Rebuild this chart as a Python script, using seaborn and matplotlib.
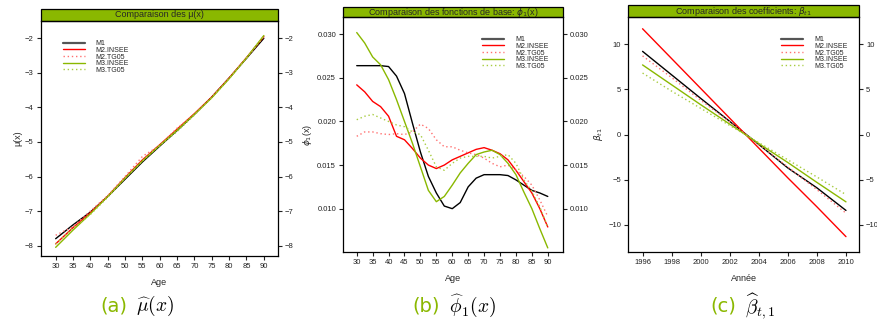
import numpy as np
import pandas as pd
import matplotlib
matplotlib.use("Agg")
import matplotlib.pyplot as plt
from matplotlib.patches import Rectangle
import seaborn as sns

# =========================
# DONNÉES
# =========================

series = ["M1", "M2.INSEE", "M2.TG05", "M3.INSEE", "M3.TG05"]

# (a) mu(x)
age_a = [30, 35, 40, 45, 50, 55, 60, 65, 70, 75, 80, 85, 90]
mu_m1 = [-7.80, -7.40, -7.03, -6.58, -6.08, -5.58, -5.12, -4.67, -4.20, -3.70, -3.15, -2.58, -2.00]
mu_m2_insee = [-7.95, -7.48, -7.05, -6.57, -6.03, -5.52, -5.08, -4.63, -4.18, -3.70, -3.15, -2.56, -1.95]
mu_m2_tg05 = [-7.70, -7.45, -7.00, -6.55, -6.00, -5.42, -5.10, -4.60, -4.20, -3.70, -3.15, -2.57, -1.95]
mu_m3_insee = [-8.05, -7.55, -7.08, -6.58, -6.05, -5.55, -5.10, -4.66, -4.20, -3.72, -3.17, -2.57, -1.92]
mu_m3_tg05 = [-7.95, -7.50, -7.10, -6.60, -6.05, -5.55, -5.10, -4.70, -4.22, -3.72, -3.17, -2.57, -1.93]

# (b) phi_1(x)
age_b = [30, 32.5, 35, 37.5, 40, 42.5, 45, 47.5, 50, 52.5, 55, 57.5, 60, 62.5, 65,
         67.5, 70, 72.5, 75, 77.5, 80, 82.5, 85, 87.5, 90]
phi_m1 = [0.0264, 0.0264, 0.0264, 0.0264, 0.0263, 0.0252, 0.0232, 0.0198, 0.0165, 0.0137,
          0.0118, 0.0103, 0.0100, 0.0107, 0.0125, 0.0135, 0.0139, 0.0139, 0.0139, 0.0138,
          0.0133, 0.0127, 0.0121, 0.0118, 0.0114]
phi_m2_insee = [0.0242, 0.0234, 0.0223, 0.0217, 0.0206, 0.0183, 0.0179, 0.0169, 0.0158, 0.0150,
                0.0146, 0.0150, 0.0156, 0.0160, 0.0164, 0.0168, 0.0170, 0.0167, 0.0163, 0.0156,
                0.0144, 0.0131, 0.0118, 0.0100, 0.0079]
phi_m2_tg05 = [0.0183, 0.0188, 0.0188, 0.0186, 0.0185, 0.0186, 0.0185, 0.0188, 0.0197, 0.0192,
               0.0179, 0.0171, 0.0171, 0.0167, 0.0164, 0.0162, 0.0158, 0.0152, 0.0148, 0.0150,
               0.0144, 0.0137, 0.0127, 0.0110, 0.0091]
phi_m3_insee = [0.0302, 0.0290, 0.0274, 0.0265, 0.0248, 0.0225, 0.0200, 0.0175, 0.0148, 0.0121,
                0.0108, 0.0114, 0.0127, 0.0141, 0.0152, 0.0162, 0.0165, 0.0167, 0.0162, 0.0152,
                0.0139, 0.0119, 0.0100, 0.0077, 0.0055]
phi_m3_tg05 = [0.0202, 0.0206, 0.0208, 0.0204, 0.0200, 0.0196, 0.0194, 0.0188, 0.0185, 0.0167,
               0.0148, 0.0144, 0.0152, 0.0158, 0.0160, 0.0160, 0.0160, 0.0158, 0.0160, 0.0162,
               0.0152, 0.0133, 0.0120, 0.0102, 0.0079]

# (c) beta_t1
annee = [1996, 1998, 2000, 2002, 2004, 2006, 2008, 2010]
beta_m1 = [9.2, 6.6, 4.0, 1.45, -1.1, -3.7, -5.9, -8.4]
beta_m2_insee = [11.7, 8.4, 5.1, 1.8, -1.5, -4.8, -8.0, -11.3]
beta_m2_tg05 = [8.7, 6.3, 3.8, 1.4, -1.1, -3.6, -6.1, -8.7]
beta_m3_insee = [7.7, 5.5, 3.3, 1.15, -1.0, -3.1, -5.3, -7.45]
beta_m3_tg05 = [6.8, 4.8, 2.9, 1.0, -0.9, -2.8, -4.7, -6.65]

# =========================
# STYLE
# =========================

sns.set_style("ticks")
plt.rcParams["font.family"] = ["Liberation Sans", "DejaVu Sans"]
plt.rcParams["mathtext.fontset"] = "dejavusans"

VERT = "#8ab800"
ROUGE = "#ff0000"
styles = {
    "M1": dict(color="black", linestyle="-", lw=1.0),
    "M2.INSEE": dict(color=ROUGE, linestyle="-", lw=1.0),
    "M2.TG05": dict(color="#ff7070", linestyle=(0, (1, 2)), lw=1.0),
    "M3.INSEE": dict(color=VERT, linestyle="-", lw=1.0),
    "M3.TG05": dict(color="#a8cc40", linestyle=(0, (1, 2)), lw=1.0),
}

fig = plt.figure(figsize=(8.78, 3.24), dpi=100)


def panel(rect, x, ys, titre, xlabel, ylabel, xlim, ylim, xticks, yticks,
          leg_anchor, strip_px, fmt):
    ax = fig.add_axes(rect)
    for nom, y in zip(series, ys):
        st = styles[nom]
        sns.lineplot(x=x, y=y, ax=ax, color=st["color"], linestyle=st["linestyle"],
                     lw=st["lw"], label=nom)
    ax.set_xlim(*xlim)
    ax.set_ylim(*ylim)
    ax.set_xticks(xticks)
    ax.set_yticks(yticks)
    ax.set_yticklabels([fmt(v) for v in yticks])
    ax.tick_params(axis="both", labelsize=5.5, length=3, width=0.8, pad=2, colors="#222222")
    ax.tick_params(axis="y", right=True, labelright=True)
    for s in ax.spines.values():
        s.set_linewidth(0.9)
        s.set_color("black")
    ax.set_xlabel(xlabel, fontsize=6.5, labelpad=6)
    ax.set_ylabel(ylabel, fontsize=6.5, labelpad=2)
    leg = ax.legend(loc="upper left", bbox_to_anchor=leg_anchor, frameon=False,
                    fontsize=5, handlelength=3.2, handletextpad=1.6,
                    labelspacing=-0.05, borderaxespad=0)
    leg.get_lines()[0].set_color("#555555")
    leg.get_lines()[0].set_linewidth(1.6)
    # bandeau du titre
    h = strip_px / (rect[3] * 324)
    ax.add_patch(Rectangle((0, 1), 1, h, transform=ax.transAxes, clip_on=False,
                           facecolor=VERT, edgecolor="black", lw=0.9))
    ax.text(0.5, 1 + h / 2, titre, transform=ax.transAxes, ha="center", va="center",
            fontsize=6.5)
    return ax


panel([0.0464, 0.2099, 0.2703, 0.7253], age_a,
      [mu_m1, mu_m2_insee, mu_m2_tg05, mu_m3_insee, mu_m3_tg05],
      "Comparaison des μ(x)", "Age", "μ(x)",
      (25.7, 94.1), (-8.3, -1.5), list(range(30, 91, 5)), list(range(-8, -1)),
      (0.08, 0.93), 12, lambda v: f"{v:d}".replace("-", "\u2212"))

panel([0.3907, 0.2222, 0.2506, 0.7253], age_b,
      [phi_m1, phi_m2_insee, phi_m2_tg05, phi_m3_insee, phi_m3_tg05],
      "Comparaison des fonctions de base: $\\phi_1$(x)", "Age", "$\\phi_1$(x)",
      (25.7, 94.8), (0.00503, 0.03198), list(range(30, 91, 5)),
      [0.010, 0.015, 0.020, 0.025, 0.030], (0.62, 0.93), 10, lambda v: f"{v:.3f}")

panel([0.7153, 0.2222, 0.2631, 0.7253], annee,
      [beta_m1, beta_m2_insee, beta_m2_tg05, beta_m3_insee, beta_m3_tg05],
      "Comparaison des coefficients: $\\beta_{t1}$", "Année", "$\\beta_{t1}$",
      (1995.0, 2010.9), (-13, 13), list(range(1996, 2011, 2)),
      [-10, -5, 0, 5, 10], (0.65, 0.93), 12, lambda v: f"{v:d}".replace("-", "\u2212"))

# =========================
# LÉGENDES DES SOUS-FIGURES
# =========================

captions = [(0.150, "(a)", r"$\widehat{\mu}(x)$"),
            (0.506, "(b)", r"$\widehat{\phi}_1(x)$"),
            (0.843, "(c)", r"$\widehat{\beta}_{t,1}$")]
for xc, lettre, math in captions:
    fig.text(xc - 0.005, 0.055, lettre, color=VERT, fontsize=14, ha="right", va="center",
             family=["DejaVu Sans"])
    fig.text(xc + 0.005, 0.055, math, color="black", fontsize=14, ha="left", va="center",
             math_fontfamily="cm")

fig.savefig("out.png", dpi=100)
